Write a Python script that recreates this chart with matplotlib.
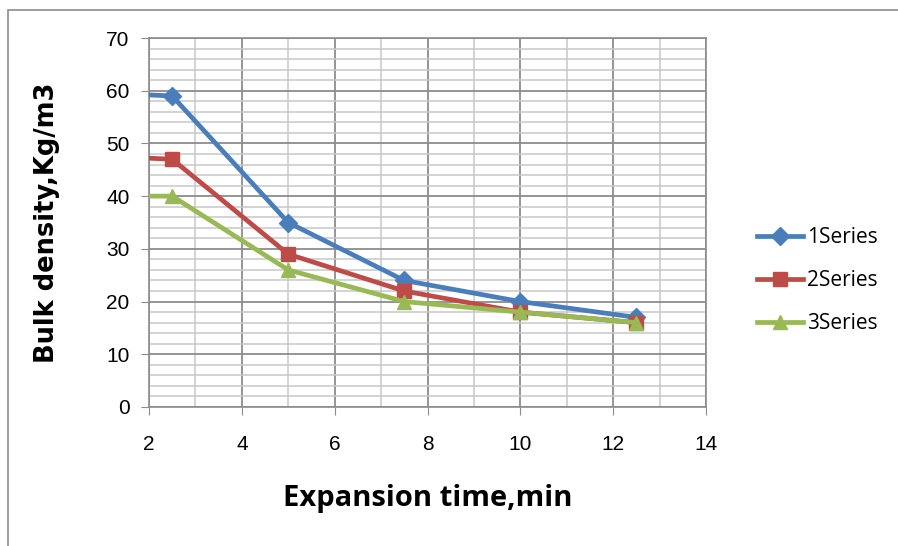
import matplotlib

matplotlib.use("Agg")
import matplotlib.pyplot as plt
from matplotlib.patches import Rectangle
from matplotlib.ticker import MultipleLocator

# expansion time (min); first point sits left of the visible axis range
time_min = [0, 2.5, 5, 7.5, 10, 12.5]
series1 = [60, 59, 35, 24, 20, 17]
series2 = [48, 47, 29, 22, 18, 16]
series3 = [40, 40, 26, 20, 18, 16]
labels = ["1Series", "2Series", "3Series"]

STYLES = [
    ("#4A7EBB", "D", 9),
    ("#BE4B48", "s", 10),
    ("#98B954", "^", 10),
]

fig = plt.figure(figsize=(8.98, 5.46), dpi=100)
fig.patches.append(Rectangle((8 / 898, -0.01), 1.0, 1 - 10 / 546 + 0.01,
                             transform=fig.transFigure, fill=False,
                             edgecolor="#8c8c8c", lw=1.2))
ax = fig.add_axes([149 / 898, 1 - 407 / 546, (706 - 149) / 898, (407 - 38) / 546])

for ys, lab, (c, m, ms) in zip([series1, series2, series3], labels, STYLES):
    ax.plot(time_min, ys, color=c, lw=3.4, marker=m, markersize=ms, label=lab,
            zorder=3)

ax.set_xlim(2, 14)
ax.set_ylim(0, 70)
ax.xaxis.set_major_locator(MultipleLocator(2))
ax.xaxis.set_minor_locator(MultipleLocator(1))
ax.yaxis.set_major_locator(MultipleLocator(10))
ax.yaxis.set_minor_locator(MultipleLocator(2))
ax.grid(True, which="major", color="#8c8c8c", lw=1.3)
ax.grid(True, which="minor", color="#c8c8c8", lw=1.1)
ax.set_axisbelow(True)
for s in ax.spines.values():
    s.set_color("#8c8c8c")
    s.set_linewidth(1.2)
ax.tick_params(which="major", length=6, color="#8c8c8c", labelsize=15,
               pad=8)
ax.tick_params(which="minor", length=0)
ax.tick_params(axis="x", pad=14)
for t in ax.get_xticklabels() + ax.get_yticklabels():
    t.set_fontfamily("Liberation Sans")

ax.set_xlabel("Expansion time,min", fontsize=21, fontweight="bold",
              family="Open Sans", labelpad=22)
ax.set_ylabel("Bulk density,Kg/m3", fontsize=18.5, fontweight="bold",
              family="DejaVu Sans", labelpad=33)

leg = ax.legend(loc="center left", bbox_to_anchor=(1.092, 0.342), frameon=False,
                handlelength=2.2, labelspacing=1.05, handletextpad=0.2,
                borderaxespad=0, borderpad=0,
                prop={"family": "Open Sans", "size": 15})

fig.savefig("out.png", dpi=100)
